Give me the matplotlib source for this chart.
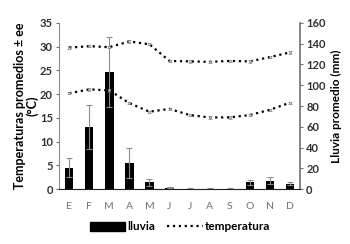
import numpy as np
import matplotlib
matplotlib.use("Agg")
import matplotlib.pyplot as plt
from matplotlib.patches import Patch
from matplotlib.lines import Line2D

plt.rcParams["font.family"] = ["Lato", "DejaVu Sans"]

MONTHS = ["E", "F", "M", "A", "M", "J", "J", "A", "S", "O", "N", "D"]
# rain (mm), right axis
RAIN = [20.6, 59.5, 112.5, 25.4, 6.4, 1.4, 0.5, 0.5, 0.5, 6.6, 8.2, 5.3]
RAIN_ERR = [9.1, 21.0, 33.5, 14.5, 3.2, 0.5, 0.2, 0.2, 0.2, 2.6, 3.3, 1.7]
# temperatures (°C), left axis
TMAX = [29.8, 30.1, 29.9, 31.1, 30.5, 27.0, 26.9, 26.8, 27.0, 26.9, 27.8, 28.8]
TMIN = [20.2, 21.0, 20.8, 18.1, 16.3, 16.9, 15.6, 15.1, 15.1, 15.6, 16.7, 18.2]
T_ERR = [0.25] * 12

fig = plt.figure(figsize=(3.5, 2.44), dpi=100)
ax = fig.add_axes([0.169, 0.225, 0.688, 0.681])
ax2 = ax.twinx()

x = np.arange(len(MONTHS))
ax2.bar(x, RAIN, width=0.42, color="black", zorder=2)
ax2.errorbar(x, RAIN, yerr=RAIN_ERR, fmt="none", ecolor="#8c8c8c",
             elinewidth=0.8, capsize=2, capthick=0.8, zorder=3)

for t in (TMAX, TMIN):
    ax.errorbar(x, t, yerr=T_ERR, color="black", ls=":", lw=1.6,
                marker="s", ms=1.6, mfc="#dddddd", mec="#777777", mew=0.4,
                ecolor="#777777", elinewidth=0.5, capsize=1.2, zorder=4)

ax.set_zorder(ax2.get_zorder() + 1)
ax.patch.set_visible(False)

ax.set_xlim(-0.5, 11.5)
ax.set_ylim(0, 35)
ax.set_yticks(range(0, 36, 5))
ax2.set_ylim(0, 160)
ax2.set_yticks(range(0, 161, 20))
ax.set_xticks(x)
ax.set_xticklabels(MONTHS, color="#707070", fontsize=7.5)

for a in (ax, ax2):
    a.spines["top"].set_visible(False)
    a.tick_params(axis="y", labelsize=8, length=2.5, width=0.8,
                  color="#707070", pad=2)
    for lab in a.get_yticklabels():
        lab.set_fontweight("bold")
        lab.set_color("#303030")
ax.tick_params(axis="x", length=0, pad=9)
ax.spines["left"].set_color("#8c8c8c")
ax2.spines["left"].set_visible(False)
ax.spines["right"].set_visible(False)
ax2.spines["right"].set_color("#707070")
ax2.spines["right"].set_linewidth(1.2)
ax.spines["bottom"].set_color("#202020")
ax2.spines["bottom"].set_visible(False)

ax.set_ylabel("Temperaturas promedios ± ee\n(°C)", fontsize=9,
              fontweight="bold", linespacing=1.0, labelpad=1)
ax2.set_ylabel("Lluvia promedio (mm)", fontsize=8.5, fontweight="bold",
               labelpad=4)

handles = [Patch(facecolor="black", edgecolor="black"),
           Line2D([0], [0], color="black", ls=":", lw=1.6)]
fig.legend(handles, ["lluvia", "temperatura"], loc="center",
           bbox_to_anchor=(0.515, 0.07), ncol=2, frameon=False,
           prop={"weight": "bold", "size": 8.5}, handlelength=3.0,
           handleheight=0.8, handletextpad=0.2, columnspacing=1.0)

fig.savefig("out.png", dpi=100)
